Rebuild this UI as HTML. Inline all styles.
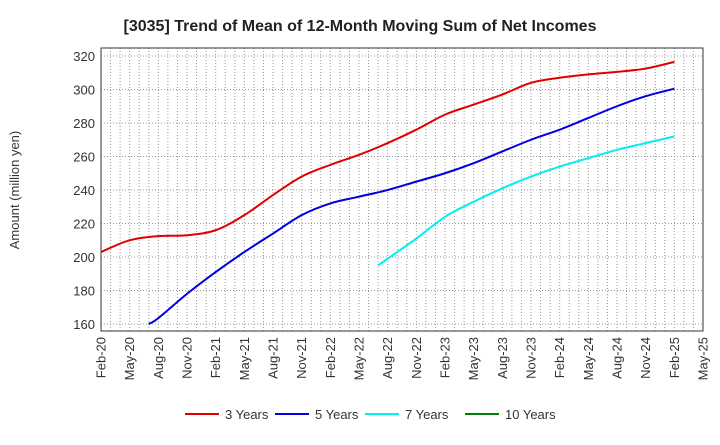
<!DOCTYPE html>
<html><head><meta charset="utf-8"><style>
body{margin:0;background:#fff;font-family:"Liberation Sans",Arial,sans-serif}
</style></head><body>
<svg id="c" width="720" height="440" xmlns="http://www.w3.org/2000/svg" font-family="Liberation Sans, Arial, sans-serif">
<text x="360" y="31" text-anchor="middle" font-size="16" font-weight="700" fill="#222">[3035]  Trend of Mean of 12-Month Moving Sum of Net Incomes</text>
<text transform="translate(19,190) rotate(-90)" text-anchor="middle" font-size="13" fill="#333">Amount (million yen)</text>
<g id="grid"></g><g id="axes"></g><g id="series"></g><g id="legend"></g>
</svg>
<script>
const xLabels=["Feb-20","May-20","Aug-20","Nov-20","Feb-21","May-21","Aug-21","Nov-21","Feb-22","May-22","Aug-22","Nov-22","Feb-23","May-23","Aug-23","Nov-23","Feb-24","May-24","Aug-24","Nov-24","Feb-25","May-25"];
const yTicks=[160,180,200,220,240,260,280,300,320];
const s3Months=[0,3,6,9,12,15,18,21,24,27,30,33,36,39,42,45,48,51,54,57,60];
const s3=[203,210,212.5,213,216,225,237,248,255,261,268,276,285,291,297,304,307,309,310.5,312.5,316.5];
const s5Months=[5,6,9,12,15,18,21,24,27,30,33,36,39,42,45,48,51,54,57,60];
const s5=[160,163.5,178,191,203,214,225,232,236,240,245,250,256,263,270,276,283,290,296,300.5];
const s7Months=[29,30,33,36,39,42,45,48,51,54,57,60];
const s7=[195,199,211,224,233,241,248,254,259,264,268,272];
const s10Months=[];
const s10=[];
const L=101,R=703,T=48,B=331;
const X=m=>L+(R-L)*m/63;
const Y=v=>56+(320-v)*(324-56)/160;
const NS="http://www.w3.org/2000/svg";
function mk(p,t,a){const e=document.createElementNS(NS,t);for(const k in a)e.setAttribute(k,a[k]);document.getElementById(p).appendChild(e);return e;}
for(let m=1;m<63;m++){const x=X(m);const g=mk('grid','line',{x1:x,x2:x,y1:T,y2:B,stroke:'#999','stroke-dasharray':'1,2','stroke-width':1});

}
yTicks.forEach(v=>{const g=mk('grid','line',{x1:L,x2:R,y1:Y(v),y2:Y(v),stroke:'#999','stroke-dasharray':'1,2'});


const t=mk('axes','text',{x:L-6,y:Y(v)+5,'text-anchor':'end','font-size':13,fill:'#333'});t.textContent=v;

});
const fr=mk('axes','rect',{x:L,y:T,width:R-L,height:B-T,fill:'none',stroke:'#333'});


xLabels.forEach((l,i)=>{const x=X(i*3);const t=mk('axes','text',{transform:`translate(${x+4.5},${B+6}) rotate(-90)`,'text-anchor':'end','font-size':13,fill:'#333'});t.textContent=l;

});
function path(ms,arr){const p=arr.map((v,i)=>[X(ms[i]),Y(v)]);if(p.length<2)return '';
let d=`M${p[0][0]},${p[0][1]}`;for(let i=0;i<p.length-1;i++){const p0=p[i-1]||p[i],p1=p[i],p2=p[i+1],p3=p[i+2]||p2;
d+=` C${p1[0]+(p2[0]-p0[0])/6},${p1[1]+(p2[1]-p0[1])/6} ${p2[0]-(p3[0]-p1[0])/6},${p2[1]-(p3[1]-p1[1])/6} ${p2[0]},${p2[1]}`;}return d;}
const ser=[[s3Months,s3,'#e00000','3 Years','series-3-years'],[s5Months,s5,'#0000e0','5 Years','series-5-years'],[s7Months,s7,'#00f0f0','7 Years','series-7-years'],[s10Months,s10,'#008000','10 Years','series-10-years']];
ser.forEach(([ms,a,c,n,dn],k)=>{const d=path(ms,a);if(d){const e=mk('series','path',{d:d,fill:'none',stroke:c,'stroke-width':2});

}
const lx=[185,275,365,465][k];
const ln=mk('legend','line',{x1:lx,x2:lx+34,y1:414,y2:414,stroke:c,'stroke-width':2});


const t=mk('legend','text',{x:lx+40,y:419,'font-size':13,fill:'#333'});t.textContent=n;

});
</script>
</body></html>
